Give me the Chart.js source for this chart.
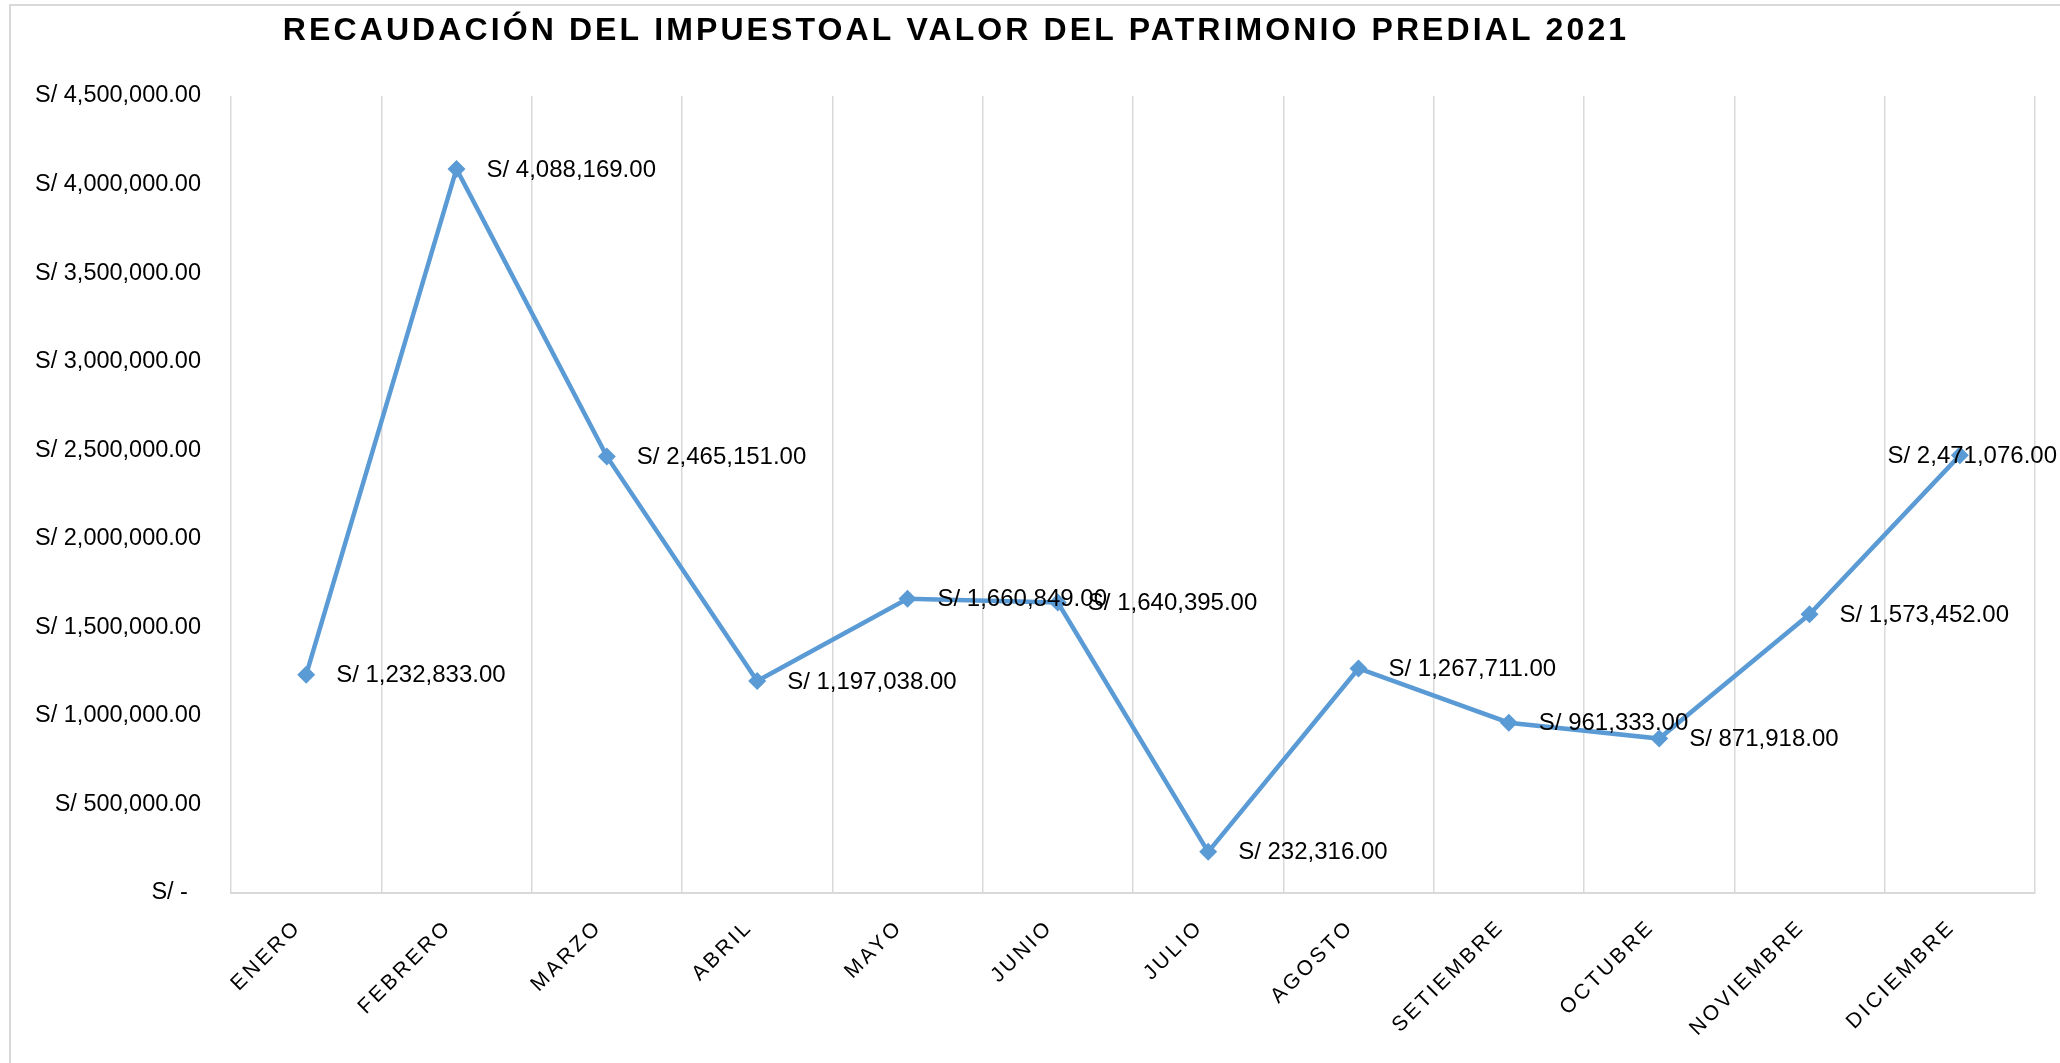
<!DOCTYPE html>
<html>
<head>
<meta charset="utf-8">
<script src="https://cdn.jsdelivr.net/npm/chart.js@4.4.1/dist/chart.umd.min.js"></script>
<style>
  html, body { margin: 0; padding: 0; background: #fff; }
  #wrap { width: 2060px; height: 1063px; position: relative; }
</style>
</head>
<body>
<div id="wrap"><canvas id="chart"></canvas></div>
<script>
// datos
const titulo = "RECAUDACIÓN DEL IMPUESTOAL VALOR DEL PATRIMONIO PREDIAL 2021";
const meses = ["ENERO", "FEBRERO", "MARZO", "ABRIL", "MAYO", "JUNIO", "JULIO",
  "AGOSTO", "SETIEMBRE", "OCTUBRE", "NOVIEMBRE", "DICIEMBRE"];
const recaudacion = [1232833, 4088169, 2465151, 1197038, 1660849, 1640395,
  232316, 1267711, 961333, 871918, 1573452, 2471076];
const ejeYMax = 4500000;
const ejeYPaso = 500000;

const FUENTE = "'Liberation Sans', Arial, sans-serif";
const AZUL = "#5B9BD5";

function soles(v) {
  if (v === 0) return "S/ -  ";
  return "S/ " + v.toLocaleString("en-US", { minimumFractionDigits: 2, maximumFractionDigits: 2 });
}

// marco, título, etiquetas del eje X con espaciado y etiquetas de datos
const extras = {
  id: "extras",
  beforeDraw(chart) {
    const ctx = chart.ctx;
    ctx.save();
    ctx.strokeStyle = "#d9d9d9";
    ctx.lineWidth = 2;
    ctx.strokeRect(10, 5, chart.width + 20, chart.height + 20);
    ctx.restore();
  },
  afterDraw(chart) {
    const ctx = chart.ctx;
    const x = chart.scales.x;
    const area = chart.chartArea;

    ctx.save();
    ctx.fillStyle = "#000";
    ctx.font = "bold 32px " + FUENTE;
    ctx.letterSpacing = "3.1px";
    ctx.textAlign = "center";
    ctx.textBaseline = "middle";
    ctx.fillText(titulo, 956, 31);
    ctx.restore();

    ctx.save();
    ctx.fillStyle = "#000";
    ctx.font = "21px " + FUENTE;
    ctx.letterSpacing = "3px";
    ctx.textAlign = "right";
    ctx.textBaseline = "middle";
    meses.forEach((m, i) => {
      const px = x.getPixelForValue(i);
      ctx.save();
      ctx.translate(px - 8, area.bottom + 31);
      ctx.rotate(-Math.PI / 4);
      ctx.fillText(m, 0, 0);
      ctx.restore();
    });
    ctx.restore();

    ctx.save();
    ctx.fillStyle = "#000";
    ctx.font = "24px " + FUENTE;
    ctx.textAlign = "left";
    ctx.textBaseline = "middle";
    const meta = chart.getDatasetMeta(0);
    meta.data.forEach((p, i) => {
      const txt = soles(recaudacion[i]);
      const w = ctx.measureText(txt).width;
      let tx = p.x + 30;
      if (tx + w > chart.width - 3) tx = chart.width - 3 - w;
      ctx.fillText(txt, tx, p.y + 1);
    });
    ctx.restore();
  }
};

new Chart(document.getElementById("chart"), {
  type: "line",
  data: {
    labels: meses,
    datasets: [{
      data: recaudacion,
      borderColor: AZUL,
      backgroundColor: AZUL,
      borderWidth: 4.5,
      pointStyle: "rectRot",
      pointRadius: 9,
      pointHoverRadius: 9,
      pointBorderWidth: 0,
      tension: 0
    }]
  },
  options: {
    responsive: true,
    maintainAspectRatio: false,
    animation: false,
    layout: { padding: { left: 10, top: 96, right: 25, bottom: 0 } },
    plugins: {
      legend: { display: false },
      title: { display: false },
      tooltip: { enabled: false }
    },
    scales: {
      x: {
        offset: true,
        grid: { offset: true, color: "#d9d9d9", lineWidth: 1.5, drawTicks: false },
        border: { color: "#d9d9d9", width: 2 },
        ticks: { display: false },
        afterFit(scale) { scale.height = 170; }
      },
      y: {
        min: 0,
        max: ejeYMax,
        grid: { display: false, drawTicks: false },
        border: { display: false },
        ticks: {
          stepSize: ejeYPaso,
          padding: 30,
          color: "#000",
          font: { family: FUENTE, size: 23.5 },
          callback: (v) => soles(v)
        },
        afterFit(scale) { scale.width = 221; }
      }
    }
  },
  plugins: [extras]
});
</script>
</body>
</html>
